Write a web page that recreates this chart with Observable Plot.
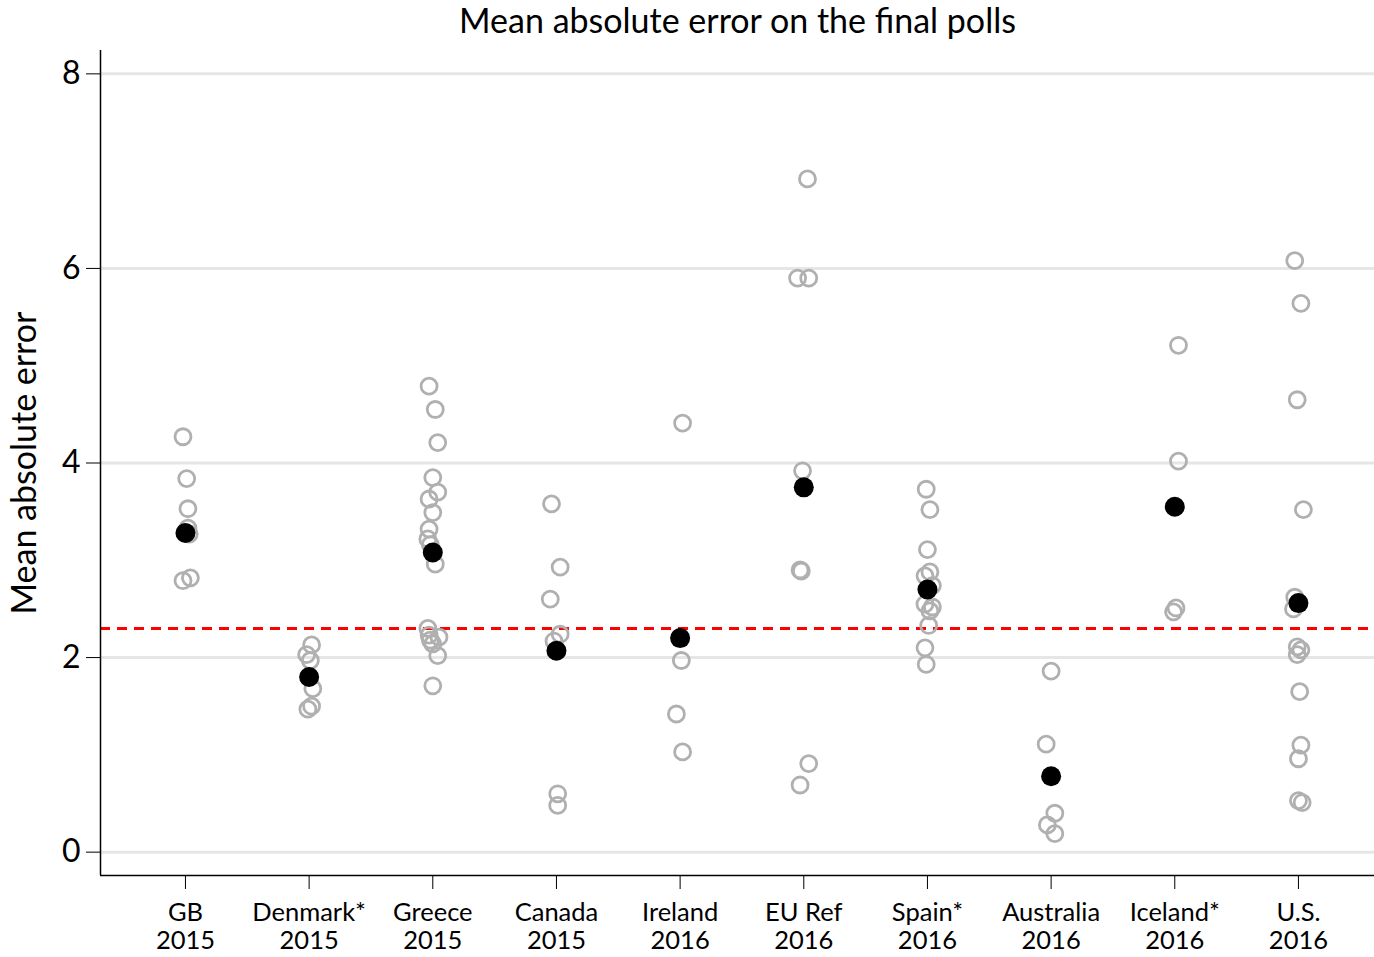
<!DOCTYPE html>
<html>
<head>
<meta charset="utf-8">
<script src="https://cdn.jsdelivr.net/npm/d3@7"></script>
<script src="https://cdn.jsdelivr.net/npm/@observablehq/plot@0.6"></script>
<style>
  html, body { margin: 0; padding: 0; background: #fff; }
  #chart svg { display: block; }
</style>
</head>
<body>
<div id="chart"></div>
<script>
// Category tick labels (two lines: election, year)
const electionNames = ["GB", "Denmark*", "Greece", "Canada", "Ireland", "EU Ref", "Spain*", "Australia", "Iceland*", "U.S."];
const electionYears = ["2015", "2015", "2015", "2015", "2016", "2016", "2016", "2016", "2016", "2016"];

// Individual poll errors per election: [mean absolute error, horizontal jitter (category units)]
const gbPolls = [[4.27, -0.02], [3.84, 0.01], [3.53, 0.02], [3.33, 0.02], [3.27, 0.03], [2.82, 0.04], [2.79, -0.02]];
const denmarkPolls = [[2.13, 0.02], [2.03, -0.02], [1.97, 0.01], [1.68, 0.03], [1.50, 0.02], [1.47, -0.01]];
const greecePolls = [[4.79, -0.03], [4.55, 0.02], [4.21, 0.04], [3.85, 0.0], [3.70, 0.04], [3.63, -0.03], [3.49, 0.0],
  [3.32, -0.03], [3.22, -0.04], [3.16, -0.02], [2.96, 0.02], [2.30, -0.04], [2.23, -0.03], [2.21, 0.05],
  [2.18, -0.02], [2.14, 0.0], [2.02, 0.04], [1.71, 0.0]];
const canadaPolls = [[3.58, -0.04], [2.93, 0.03], [2.60, -0.05], [2.24, 0.03], [2.17, -0.02], [0.60, 0.01], [0.48, 0.01]];
const irelandPolls = [[4.41, 0.02], [1.97, 0.01], [1.42, -0.03], [1.03, 0.02]];
const euRefPolls = [[6.92, 0.03], [5.90, -0.05], [5.90, 0.04], [3.92, -0.01], [2.90, -0.03], [2.89, -0.02], [0.91, 0.04], [0.69, -0.03]];
const spainPolls = [[3.73, -0.01], [3.52, 0.02], [3.11, 0.0], [2.88, 0.02], [2.84, -0.02], [2.74, 0.04], [2.55, -0.02],
  [2.52, 0.04], [2.48, 0.02], [2.33, 0.01], [2.10, -0.02], [1.93, -0.01]];
const australiaPolls = [[1.86, 0.0], [1.11, -0.04], [0.40, 0.03], [0.28, -0.03], [0.19, 0.03]];
const icelandPolls = [[5.21, 0.03], [4.02, 0.03], [2.51, 0.01], [2.47, -0.01]];
const usPolls = [[6.08, -0.03], [5.64, 0.02], [4.65, -0.01], [3.52, 0.04], [2.62, -0.03], [2.50, -0.04], [2.11, -0.01],
  [2.08, 0.02], [2.03, -0.01], [1.65, 0.01], [1.10, 0.02], [0.96, 0.0], [0.53, 0.0], [0.51, 0.03]];

// Average error per election (black dots)
const averageErrors = [3.28, 1.80, 3.08, 2.07, 2.20, 3.75, 2.70, 0.78, 3.55, 2.56];

// Overall reference line
const overallAverage = 2.3;

// Axis ticks
const yTicks = [0, 2, 4, 6, 8];
const xDomain = [0.313, 10.615];
const yDomain = [-0.24, 8.24];

const titleText = "Mean absolute error on the final polls";
const yLabelText = "Mean absolute error";

const allPolls = [gbPolls, denmarkPolls, greecePolls, canadaPolls, irelandPolls, euRefPolls,
  spainPolls, australiaPolls, icelandPolls, usPolls];

const pollRows = allPolls.flatMap((polls, i) =>
  polls.map(([err, jit]) => ({pos: i + 1 + jit, err})));
const meanRows = averageErrors.map((err, i) => ({pos: i + 1, err}));

const FONT = "Lato, 'Open Sans', sans-serif";

const chart = Plot.plot({
  width: 1374,
  height: 957,
  marginLeft: 100,
  marginRight: 0,
  marginTop: 50,
  marginBottom: 82,
  style: {fontFamily: FONT, color: "#000", background: "#fff"},
  x: {type: "linear", domain: xDomain},
  y: {domain: yDomain},
  marks: [
    Plot.ruleY(yTicks, {stroke: "#e6e6e6", strokeWidth: 3}),
    Plot.ruleY([overallAverage], {stroke: "#ff0000", strokeWidth: 3, strokeDasharray: "10,7"}),
    Plot.dot(pollRows, {x: "pos", y: "err", r: 8, stroke: "#b0b0b0", strokeWidth: 2.8, fill: "none"}),
    Plot.dot(meanRows, {x: "pos", y: "err", r: 10, fill: "#000", stroke: "none"}),
    Plot.ruleX([xDomain[0]], {stroke: "#000", strokeWidth: 1.5}),
    Plot.ruleY([yDomain[0]], {stroke: "#000", strokeWidth: 1.5}),
    Plot.axisY({
      ticks: yTicks, tickSize: 14, tickPadding: 6, fontSize: 32, tickFormat: d => String(d), label: null
    }),
    Plot.axisX({
      ticks: d3.range(1, 11), tickSize: 14, tickPadding: 13, fontSize: 25.5,
      tickFormat: d => electionNames[d - 1], label: null
    }),
    Plot.axisX({
      ticks: d3.range(1, 11), tickSize: 0, tickPadding: 55, fontSize: 25.5,
      tickFormat: d => electionYears[d - 1], label: null
    }),
    Plot.text([yLabelText], {
      frameAnchor: "left", rotate: -90, dx: -75, fontSize: 34, fill: "#000",
      textAnchor: "middle", lineAnchor: "middle"
    }),
    Plot.text([titleText], {
      frameAnchor: "top", dy: -28, fontSize: 34, fill: "#000", lineAnchor: "middle"
    })
  ]
});

document.getElementById("chart").appendChild(chart);
</script>
</body>
</html>
